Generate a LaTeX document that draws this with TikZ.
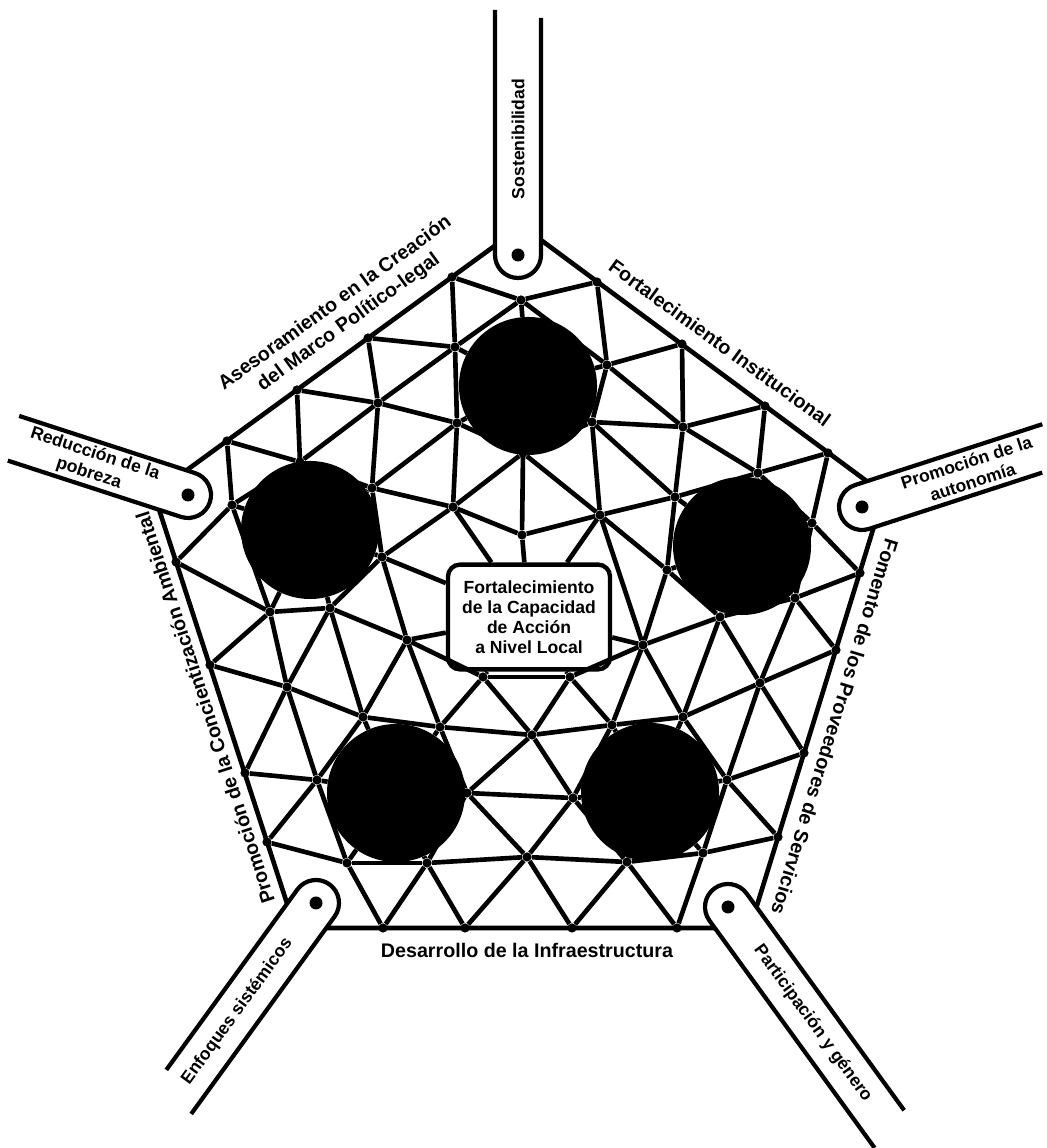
\documentclass[tikz,border=0pt]{standalone}
\usepackage{fontspec}
\setmainfont{Liberation Sans}
\usepackage{tikz}
\usetikzlibrary{calc}

\newcommand{\drawpeg}[4]{%
  \begin{scope}[shift={(#1)}, rotate=#2]
    \fill[white] (#3,23) -- (0,23) arc (90:270:23) -- (#4,-23) -- cycle;
    \draw[pegline] (#3,23) -- (0,23) arc (90:270:23) -- (#4,-23);
  \end{scope}
  \fill (#1) circle (6.5);
}

\begin{document}
\begin{tikzpicture}[
    x=0.025cm, y=0.025cm,
    mesh/.style={line width=3.3pt},
    rim/.style={line width=3.3pt, line join=miter},
    pegline/.style={line width=3pt},
    vtx/.style={circle, fill, inner sep=0pt, minimum size=2.3mm},
    hub/.style={circle, fill, inner sep=0pt, minimum size=3.45cm},
    corebox/.style={rectangle, draw, fill=white, rounded corners=3mm, line width=3.1pt, align=center, minimum width=4.05cm, minimum height=2.62cm, inner sep=0pt, font=\bfseries\fontsize{12.5}{14.2}\selectfont},
    sidelabel/.style={align=center, inner sep=0pt, font=\bfseries\fontsize{14}{16.5}\selectfont},
    peglabel/.style={align=center, inner sep=0pt, font=\bfseries\fontsize{12.5}{14.5}\selectfont}
]
\useasboundingbox (0,0) rectangle (1046,1148);

\coordinate (ctop) at (522,922);
\coordinate (cright) at (884,654);
\coordinate (cbright) at (750,220);
\coordinate (cbleft) at (295,220);
\coordinate (cleft) at (154,654);

\coordinate (pegtop) at (518,893);
\coordinate (pegright) at (862,641);
\coordinate (pegbright) at (728,241);
\coordinate (pegbleft) at (316,245);
\coordinate (pegleft) at (188,653);

\node[hub] (hubtop) at (528,762) {};
\node[hub] (hubleft) at (310,618) {};
\node[hub] (hubright) at (742,602) {};
\node[hub] (hubbl) at (396,355) {};
\node[hub] (hubbr) at (650,356) {};

\node[corebox] (core) at (529,531) {Fortalecimiento\\de la Capacidad\\de Acción\\a Nivel Local};

\node[vtx] (tl1) at (227,707) {};
\node[vtx] (tl2) at (297,758) {};
\node[vtx] (tl3) at (368,810) {};
\node[vtx] (tl4) at (452,871) {};
\node[vtx] (tr1) at (597,866) {};
\node[vtx] (tr2) at (682,804) {};
\node[vtx] (tr3) at (765,742) {};
\node[vtx] (tr4) at (828,695) {};
\node[vtx] (rs1) at (860,575) {};
\node[vtx] (rs2) at (836,498) {};
\node[vtx] (rs3) at (804,395) {};
\node[vtx] (rs4) at (778,311) {};
\node[vtx] (bs1) at (383,220) {};
\node[vtx] (bs2) at (465,220) {};
\node[vtx] (bs3) at (572,220) {};
\node[vtx] (bs4) at (677,220) {};
\node[vtx] (ls1) at (176,586) {};
\node[vtx] (ls2) at (210,483) {};
\node[vtx] (ls3) at (245,375) {};
\node[vtx] (ls4) at (267,306) {};

\node[vtx] (a) at (521,848) {};
\node[vtx] (b) at (455,801) {};
\node[vtx] (c) at (607,783) {};
\node[vtx] (d) at (378,745) {};
\node[vtx] (e) at (457,725) {};
\node[vtx] (f) at (592,726) {};
\node[vtx] (g) at (683,721) {};
\node[vtx] (h) at (300,686) {};
\node[vtx] (i) at (372,660) {};
\node[vtx] (j) at (453,641) {};
\node[vtx] (k) at (523,695) {};
\node[vtx] (m) at (600,633) {};
\node[vtx] (n) at (758,675) {};
\node[vtx] (o) at (675,651) {};
\node[vtx] (p) at (232,643) {};
\node[vtx] (q) at (522,613) {};
\node[vtx] (r) at (812,625) {};
\node[vtx] (t) at (795,550) {};
\node[vtx] (s) at (382,591) {};
\node[vtx] (v) at (667,578) {};
\node[vtx] (w) at (330,540) {};
\node[vtx] (x) at (270,536) {};
\node[vtx] (y) at (407,508) {};
\node[vtx] (z) at (287,461) {};
\node[vtx] (aa) at (363,431) {};
\node[vtx] (ab) at (440,421) {};
\node[vtx] (ac) at (483,471) {};
\node[vtx] (ad) at (570,471) {};
\node[vtx] (ae) at (643,503) {};
\node[vtx] (af) at (720,531) {};
\node[vtx] (ag) at (760,465) {};
\node[vtx] (ah) at (683,431) {};
\node[vtx] (ai) at (532,413) {};
\node[vtx] (au) at (612,423) {};
\node[vtx] (aj) at (317,368) {};
\node[vtx] (ak) at (467,355) {};
\node[vtx] (al) at (573,350) {};
\node[vtx] (am) at (727,368) {};
\node[vtx] (an) at (347,285) {};
\node[vtx] (ao) at (427,285) {};
\node[vtx] (ap) at (527,291) {};
\node[vtx] (aq) at (627,286) {};
\node[vtx] (ar) at (703,295) {};

\draw[mesh] (a) edge (tl4) edge (b) edge (hubtop) edge (tr1) edge (c);
\draw[mesh] (b) edge (tl4) edge (tl3) edge (d) edge (hubtop) edge (e);
\draw[mesh] (d) edge (tl3) edge (tl2) edge (h) edge (e) edge (i);
\draw[mesh] (h) edge (tl2) edge (tl1) edge (p) edge (i) edge (hubleft);
\draw[mesh] (p) edge (tl1) edge (hubleft) edge (x) edge (ls1);
\draw[mesh] (e) edge (hubtop) edge (k) edge (j) edge (i);
\draw[mesh] (i) edge (j) edge (s) edge (hubleft);
\draw[mesh] (j) edge (k) edge (q) edge (s) edge (core);
\draw[mesh] (c) edge (tr1) edge (tr2) edge (g) edge (f) edge (hubtop);
\draw[mesh] (g) edge (tr2) edge (tr3) edge (n) edge (f) edge (o);
\draw[mesh] (n) edge (tr3) edge (tr4) edge (r) edge (hubright) edge (o);
\draw[mesh] (r) edge (tr4) edge (rs1) edge (hubright) edge (t);
\draw[mesh] (f) edge (hubtop) edge (k) edge (m) edge (o);
\draw[mesh] (k) edge (hubtop) edge (q) edge (m);
\draw[mesh] (q) edge (m) edge (core);
\draw[mesh] (m) edge (o) edge (v) edge (core) edge (ae);
\draw[mesh] (o) edge (hubright) edge (v);
\draw[mesh] (v) edge (hubright) edge (af) edge (ae);
\draw[mesh] (t) edge (rs1) edge (rs2) edge (ag) edge (af) edge (hubright);
\draw[mesh] (af) edge (ag) edge (ah) edge (ae) edge (hubright);
\draw[mesh] (ag) edge (rs2) edge (rs3) edge (am) edge (ah);
\draw[mesh] (ae) edge (ah) edge (au) edge (ad) edge (core);
\draw[mesh] (ah) edge (au) edge (hubbr) edge (am);
\draw[mesh] (am) edge (rs3) edge (rs4) edge (ar) edge (hubbr);
\draw[mesh] (ar) edge (rs4) edge (bs4) edge (aq) edge (hubbr);
\draw[mesh] (aq) edge (bs4) edge (bs3) edge (ap) edge (al) edge (hubbr);
\draw[mesh] (ap) edge (bs3) edge (bs2) edge (ao) edge (ak) edge (al);
\draw[mesh] (al) edge (ak) edge (ai) edge (au) edge (hubbr);
\draw[mesh] (au) edge (ai) edge (ad) edge (hubbr);
\draw[mesh] (ai) edge (ad) edge (ac) edge (ab) edge (ak);
\draw[mesh] (ad) edge (ac) edge (core);
\draw[mesh] (ac) edge (ab) edge (y) edge (core);
\draw[mesh] (ab) edge (aa) edge (y) edge (ak) edge (hubbl);
\draw[mesh] (ak) edge (ao) edge (hubbl);
\draw[mesh] (ao) edge (an) edge (bs1) edge (bs2) edge (hubbl);
\draw[mesh] (an) edge (bs1) edge (ls4) edge (aj) edge (hubbl);
\draw[mesh] (aj) edge (ls4) edge (ls3) edge (z) edge (aa) edge (hubbl);
\draw[mesh] (aa) edge (z) edge (w) edge (y) edge (hubbl);
\draw[mesh] (z) edge (ls3) edge (ls2) edge (x) edge (w);
\draw[mesh] (x) edge (ls1) edge (ls2) edge (w) edge (hubleft);
\draw[mesh] (w) edge (hubleft) edge (s) edge (y);
\draw[mesh] (s) edge (hubleft) edge (y) edge (core);
\draw[mesh] (y) edge (core);

\draw[rim] (ctop) -- (cright) -- (cbright) -- (cbleft) -- (cleft) -- cycle;

\drawpeg{pegtop}{90}{245}{237}
\drawpeg{pegright}{18}{197}{182}
\drawpeg{pegbright}{-54}{268}{281}
\drawpeg{pegbleft}{-126}{244}{223}
\drawpeg{pegleft}{162}{182}{185}

\node[peglabel, rotate=90] (sostenibilidad) at ($(pegtop)+(90:116)$) {Sostenibilidad};
\node[peglabel, rotate=18] (autonomia) at ($(pegright)+(18:113)$) {Promoción de la\\autonomía};
\node[peglabel, rotate=-54] (genero) at ($(pegbright)+(-54:144)$) {Participación y género};
\node[peglabel, rotate=54] (enfoques) at ($(pegbleft)+(-126:134)$) {Enfoques sistémicos};
\node[peglabel, rotate=-18] (pobreza) at ($(pegleft)+(162:101)$) {Reducción de la\\pobreza};

\node[sidelabel, rotate=36] (marco) at (342,835) {Asesoramiento en la Creación\\del Marco Político-legal};
\node[sidelabel, rotate=-36] (institucional) at (720,805) {Fortalecimiento Institucional};
\node[sidelabel, rotate=-107] (proveedores) at (835,421) {Fomento de los Proveedores de Servicios};
\node[sidelabel] (infraestructura) at (527,198) {Desarrollo de la Infraestructura};
\node[sidelabel, rotate=108] (ambiental) at (205,440) {Promoción de la Concientización Ambiental};
\end{tikzpicture}
\end{document}
